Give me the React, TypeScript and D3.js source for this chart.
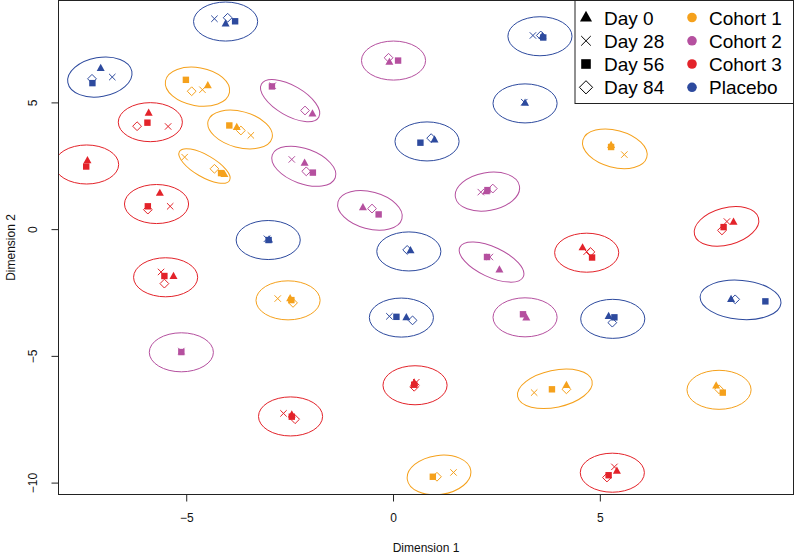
import React from 'react';
import * as d3 from 'd3';

type P = [number, number] | null;

const cohortNames = ['Cohort 1', 'Cohort 2', 'Cohort 3', 'Placebo'];
const cohortColors = ['#F5A11C', '#B5509F', '#E3232A', '#2D4A9E'];
const dayLabels = ['Day 0', 'Day 28', 'Day 56', 'Day 84'];
const xTicks = [-5, 0, 5];
const yTicks = [-10, -5, 0, 5];
const xTitle = 'Dimension 1';
const yTitle = 'Dimension 2';

// cohort index of each subject (0: Cohort 1, 1: Cohort 2, 2: Cohort 3, 3: Placebo)
const subjectCohort = [3, 3, 0, 2, 0, 2, 0, 1, 2, 3, 2, 0, 1, 2, 3, 1, 3, 3, 0, 1, 1, 1, 2, 3, 1, 2, 3, 3, 1, 3, 2, 0, 0, 0, 2];

// ellipse of each subject: centre, semi-axes (data units) and tilt (degrees)
const ellipseCx = [-4.06, -7.10, -4.74, -5.88, -3.71, -7.42, -4.57, -2.50, -5.73, -3.03, -5.51, -2.55, -5.13, -2.49, 3.54, 0.00, 3.18, 0.81, 5.35, -2.17, 2.27, -0.57, 8.05, 0.37, 2.37, 4.67, 8.39, 0.19, 3.18, 5.30, 0.52, 3.90, 7.87, 1.10, 5.29];
const ellipseCy = [8.21, 6.02, 5.64, 4.24, 3.95, 2.57, 2.51, 5.09, 1.01, -0.41, -1.88, -2.79, -4.84, -7.37, 7.63, 6.67, 4.98, 3.48, 3.19, 2.50, 1.50, 0.76, 0.13, -0.86, -1.28, -0.91, -2.77, -3.47, -3.46, -3.52, -6.14, -6.28, -6.32, -9.68, -9.59];
const ellipseRx = [0.775, 0.786, 0.786, 0.775, 0.80, 0.775, 0.70, 0.80, 0.775, 0.775, 0.775, 0.775, 0.775, 0.775, 0.775, 0.775, 0.775, 0.775, 0.80, 0.81, 0.786, 0.80, 0.80, 0.775, 0.846, 0.775, 0.98, 0.775, 0.775, 0.775, 0.775, 0.92, 0.775, 0.775, 0.775];
const ellipseRy = [0.77, 0.77, 0.75, 0.77, 0.71, 0.77, 0.43, 0.59, 0.77, 0.77, 0.77, 0.77, 0.77, 0.77, 0.77, 0.77, 0.77, 0.77, 0.73, 0.69, 0.75, 0.73, 0.73, 0.77, 0.59, 0.77, 0.77, 0.77, 0.77, 0.77, 0.77, 0.73, 0.77, 0.77, 0.77];
const ellipseRot = [0, -10, 10, 0, 15, 0, 30, 30, 0, 0, 0, 0, 0, 0, 0, 0, 0, 0, 15, 20, -10, 15, -15, 0, 25, 0, 5, 0, 0, 0, 0, -12, 0, -8, 0];

const day0: P[] = [
  [-4.06, 8.12], [-7.08, 6.37], [-4.49, 5.69], [-5.92, 4.60], [-3.79, 4.04], [-7.40, 2.73], [-4.09, 2.18], [-1.96, 4.57],
  [-5.65, 1.44], [-3.01, -0.40], [-5.32, -1.84], [-2.50, -2.72], null, [-2.46, -7.30], [3.60, 7.63], [-0.10, 6.61],
  [3.18, 5.00], [0.99, 3.55], [5.26, 3.33], [-2.15, 2.63], [2.24, 1.50], [-0.74, 0.87], [8.22, 0.30], [0.41, -0.82],
  [2.56, -1.58], [4.57, -0.71], [8.16, -2.75], [0.31, -3.47], [3.21, -3.48], [5.20, -3.42], [0.50, -6.04], [4.18, -6.14],
  [7.80, -6.16], null, [5.40, -9.52],
];
const day28: P[] = [
  [-4.33, 8.32], [-6.80, 6.02], [-4.62, 5.52], [-5.45, 4.07], [-3.45, 3.72], null, [-5.05, 2.86], [-2.92, 5.68],
  [-5.40, 0.92], [-3.06, -0.36], [-5.62, -1.67], [-2.80, -2.72], [-5.13, -4.79], [-2.66, -7.25], [3.37, 7.66], null,
  [3.16, 5.03], null, [5.58, 2.96], [-2.46, 2.77], [2.11, 1.48], null, [8.06, 0.32], null,
  [2.33, -1.08], [4.67, -0.87], null, [-0.10, -3.42], null, null, [0.55, -6.02], [3.40, -6.43],
  null, [1.45, -9.58], [5.34, -9.36],
];
const day56: P[] = [
  [-3.83, 8.22], [-7.28, 5.78], [-5.02, 5.91], [-5.95, 4.22], [-3.97, 4.11], [-7.43, 2.49], [-4.17, 2.23], [-2.94, 5.65],
  [-5.94, 0.92], [-3.02, -0.41], [-5.54, -1.83], [-2.47, -2.78], [-5.13, -4.83], [-2.46, -7.38], [3.62, 7.58], [0.11, 6.67],
  null, [0.65, 3.43], [5.26, 3.26], [-1.95, 2.25], [2.27, 1.56], [-0.36, 0.60], [7.98, 0.10], null,
  [2.26, -1.08], [4.80, -1.10], [8.99, -2.83], [0.07, -3.44], [3.13, -3.34], [5.34, -3.46], [0.50, -6.12], [3.83, -6.30],
  [7.96, -6.43], [0.95, -9.75], [5.20, -9.69],
];
const day84: P[] = [
  [-4.01, 8.36], [-7.29, 5.95], [-4.88, 5.46], [-6.20, 4.08], [-3.69, 3.91], null, [-4.33, 2.40], [-2.14, 4.70],
  [-5.94, 0.79], null, [-5.54, -2.13], [-2.43, -2.89], null, [-2.38, -7.48], [3.56, 7.66], [-0.12, 6.78],
  null, [0.91, 3.61], null, [-2.11, 2.30], [2.40, 1.62], [-0.52, 0.83], [7.94, -0.03], [0.33, -0.80],
  null, [4.76, -0.88], [8.26, -2.75], [0.46, -3.58], null, [5.29, -3.67], [0.50, -6.20], [4.18, -6.30],
  [7.87, -6.30], [1.05, -9.75], [5.16, -9.78],
];
const dayPoints = [day0, day28, day56, day84];

const W = 794;
const H = 555;
const plotLeft = 58.5;
const plotRight = 793.5;
const plotTop = 0.5;
const plotBottom = 494.5;
const FONT = '"Liberation Sans", Arial, Helvetica, sans-serif';

function marker(day: number, s: number, color: string, key: string, x: number, y: number) {
  if (day === 0) {
    const h = s * 0.9;
    const d = `M${x},${y - h * 0.62}L${x + s / 2},${y + h * 0.38}L${x - s / 2},${y + h * 0.38}Z`;
    return <path key={key} d={d} fill={color} stroke="none" />;
  }
  if (day === 1) {
    const r = s * 0.4;
    const d = `M${x - r},${y - r}L${x + r},${y + r}M${x - r},${y + r}L${x + r},${y - r}`;
    return <path key={key} d={d} fill="none" stroke={color} strokeWidth={1} />;
  }
  if (day === 2) {
    const r = s * 0.4;
    return <rect key={key} x={x - r} y={y - r} width={2 * r} height={2 * r} fill={color} />;
  }
  const r = s * 0.55;
  const d = `M${x},${y - r}L${x + r},${y}L${x},${y + r}L${x - r},${y}Z`;
  return <path key={key} d={d} fill="none" stroke={color} strokeWidth={1} />;
}

export default function App() {
  const x = d3.scaleLinear().domain([-8.1, 9.67]).range([plotLeft, plotRight]);
  const y = d3.scaleLinear().domain([-10.45, 9.04]).range([plotBottom, plotTop]);
  const kx = Math.abs(x(1) - x(0));
  const ky = Math.abs(y(1) - y(0));

  const ellipses = subjectCohort.map((c, i) => (
    <ellipse
      key={'e' + i}
      cx={0}
      cy={0}
      rx={ellipseRx[i] * kx}
      ry={ellipseRy[i] * ky}
      transform={`translate(${x(ellipseCx[i])},${y(ellipseCy[i])}) rotate(${ellipseRot[i]})`}
      fill="none"
      stroke={cohortColors[c]}
      strokeWidth={1}
    />
  ));

  const points: React.ReactNode[] = [];
  dayPoints.forEach((arr, d) => {
    arr.forEach((p, i) => {
      if (!p) return;
      points.push(marker(d, 8, cohortColors[subjectCohort[i]], `p${d}-${i}`, x(p[0]), y(p[1])));
    });
  });

  const legX = 575;
  const legRows = [17.5, 40.8, 64, 87.3];

  return (
    <svg width={W} height={H} style={{ position: 'absolute', left: 0, top: 0, background: '#fff' }} fontFamily={FONT}>
      <rect x={0} y={0} width={W} height={H} fill="#fff" />
      <defs>
        <clipPath id="plotclip">
          <rect x={plotLeft} y={plotTop} width={plotRight - plotLeft} height={plotBottom - plotTop} />
        </clipPath>
      </defs>
      <g clipPath="url(#plotclip)">
        {ellipses}
        {points}
      </g>
      <rect x={plotLeft} y={plotTop} width={plotRight - plotLeft} height={plotBottom - plotTop} fill="none" stroke="#222" strokeWidth={1} />
      {xTicks.map((t) => (
        <g key={'xt' + t}>
          <line x1={x(t)} x2={x(t)} y1={plotBottom} y2={plotBottom + 7} stroke="#222" />
          <text x={x(t)} y={522} fontSize={12} textAnchor="middle" fill="#111">{t < 0 ? '\u2212' + Math.abs(t) : t}</text>
        </g>
      ))}
      {yTicks.map((t) => (
        <g key={'yt' + t}>
          <line x1={plotLeft - 7} x2={plotLeft} y1={y(t)} y2={y(t)} stroke="#222" />
          <text transform={`translate(37,${y(t)}) rotate(-90)`} fontSize={12} textAnchor="middle" fill="#111">{t < 0 ? '\u2212' + Math.abs(t) : t}</text>
        </g>
      ))}
      <text x={(plotLeft + plotRight) / 2} y={552} fontSize={12} textAnchor="middle" fill="#111">{xTitle}</text>
      <text transform={`translate(15,${(plotTop + plotBottom) / 2}) rotate(-90)`} fontSize={12} textAnchor="middle" fill="#111">{yTitle}</text>

      <rect x={legX} y={0.5} width={plotRight - legX} height={103} fill="#fff" stroke="#222" strokeWidth={1} />
      {dayLabels.map((lab, d) => (
        <g key={'ld' + d}>
          {marker(d, 12, '#000', 'lm' + d, 586, legRows[d])}
          <text x={604} y={legRows[d] + 7} fontSize={19} fill="#000">{lab}</text>
        </g>
      ))}
      {cohortNames.map((lab, c) => (
        <g key={'lc' + c}>
          <circle cx={692} cy={legRows[c]} r={4.8} fill={cohortColors[c]} />
          <text x={709} y={legRows[c] + 7} fontSize={19} fill="#000">{lab}</text>
        </g>
      ))}
    </svg>
  );
}
